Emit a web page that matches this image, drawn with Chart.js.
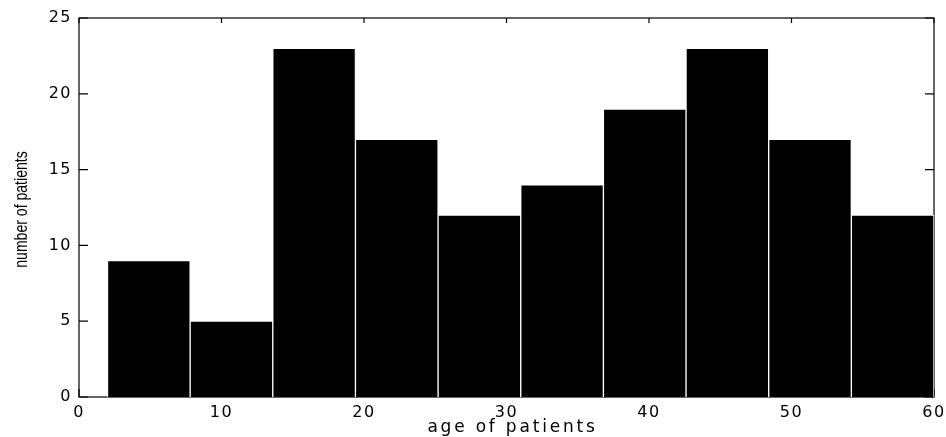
<!DOCTYPE html>
<html>
<head>
<meta charset="utf-8">
<script src="https://cdn.jsdelivr.net/npm/chart.js@4/dist/chart.umd.min.js"></script>
<style>
    body { margin: 0; background: #fff; }
    #wrap { width: 946px; height: 437px; }
</style>
</head>
<body>
<div id="wrap"><canvas id="histChart"></canvas></div>
<script>
// DATA
let binCenters = [4.9, 10.7, 16.5, 22.3, 28.1, 33.9, 39.7, 45.5, 51.3, 57.1];
let counts = [9, 5, 23, 17, 12, 14, 19, 23, 17, 12];
let xTicks = [0, 10, 20, 30, 40, 50, 60];
let yTicks = [0, 5, 10, 15, 20, 25];
let xTitle = "age of patients";
let yTitle = "number of patients";

// frame + inward ticks, drawn under the bars
const framePlugin = {
    id: "frame",
    beforeDraw(chart) {
        // slightly spaced digits like the old plot font
        chart.ctx.letterSpacing = "1.5px";
    },
    beforeDatasetsDraw(chart) {
        let ctx = chart.ctx;
        let a = chart.chartArea;
        let x = chart.scales.x;
        let y = chart.scales.y;
        ctx.save();
        ctx.strokeStyle = "#000";
        ctx.lineWidth = 1.2;
        ctx.strokeRect(a.left, a.top, a.right - a.left, a.bottom - a.top);
        xTicks.forEach(v => {
            let px = x.getPixelForValue(v);
            ctx.beginPath();
            ctx.moveTo(px, a.bottom); ctx.lineTo(px, a.bottom - 8);
            ctx.moveTo(px, a.top); ctx.lineTo(px, a.top + 5);
            ctx.stroke();
        });
        yTicks.forEach(v => {
            let py = y.getPixelForValue(v);
            ctx.beginPath();
            ctx.moveTo(a.left, py); ctx.lineTo(a.left + 9, py);
            ctx.moveTo(a.right, py); ctx.lineTo(a.right - 9, py);
            ctx.stroke();
        });
        ctx.restore();
    },
    afterDraw(chart) {
        let ctx = chart.ctx;
        let a = chart.chartArea;
        ctx.save();
        ctx.fillStyle = "#000";
        ctx.textAlign = "center";
        ctx.textBaseline = "middle";

        // x title
        ctx.letterSpacing = "2.8px";
        ctx.font = "17px 'DejaVu Sans'";
        ctx.fillText(xTitle, (a.left + a.right) / 2 + 6, 428);

        // y title, tall narrow letters
        ctx.letterSpacing = "0px";
        ctx.font = "19px 'Liberation Sans'";
        ctx.translate(22, (a.top + a.bottom) / 2 + 2);
        ctx.rotate(-Math.PI / 2);
        ctx.scale(0.74, 1);
        ctx.fillText(yTitle, 0, 0);
        ctx.restore();
        ctx.letterSpacing = "1.5px";
    }
};

function loadChart() {
    let ctx = document.getElementById("histChart");

    new Chart(ctx, {
        type: "bar",
        data: {
            datasets: [
                {
                    label: "patients",
                    data: binCenters.map((c, i) => ({ x: c, y: counts[i] })),
                    backgroundColor: "#000",
                    borderColor: "#fff",
                    borderWidth: 1,
                    barPercentage: 1,
                    categoryPercentage: 1
                }
            ]
        },
        options: {
            responsive: true,
            maintainAspectRatio: false,
            animation: false,
            layout: { padding: { top: 18, right: 12, left: 0, bottom: 0 } },
            plugins: { legend: { display: false }, tooltip: { enabled: false } },
            scales: {
                x: {
                    type: "linear",
                    min: 0,
                    max: 60,
                    offset: false,
                    afterBuildTicks: s => { s.ticks = xTicks.map(v => ({ value: v })); },
                    afterFit: s => { s.height = 40; s.paddingLeft = 0; s.paddingRight = 0; },
                    grid: { display: false, drawTicks: false },
                    border: { display: false },
                    ticks: {
                        color: "#000",
                        padding: 6,
                        maxRotation: 0,
                        font: { family: "DejaVu Sans", size: 16 }
                    }
                },
                y: {
                    min: 0,
                    max: 25,
                    afterBuildTicks: s => { s.ticks = yTicks.map(v => ({ value: v })); },
                    afterFit: s => { s.width = 79; s.paddingTop = 0; s.paddingBottom = 0; },
                    grid: { display: false, drawTicks: false },
                    border: { display: false },
                    ticks: {
                        color: "#000",
                        padding: 7,
                        font: { family: "DejaVu Sans", size: 16 }
                    }
                }
            }
        },
        plugins: [framePlugin]
    });
}

window.onload = loadChart;
</script>
</body>
</html>
